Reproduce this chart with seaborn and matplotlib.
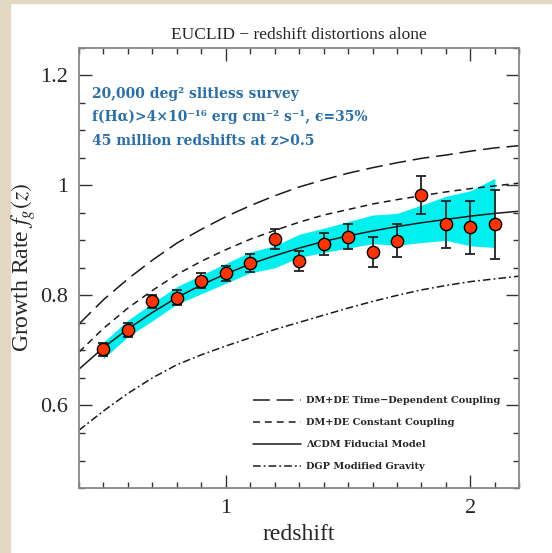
import matplotlib
matplotlib.use('Agg')
import matplotlib.pyplot as plt
from matplotlib.patches import Rectangle
from matplotlib.ticker import MultipleLocator, FormatStrFormatter
import pandas as pd
import seaborn as sns

# model curves at 0.1 steps in redshift
z_model = [0.4, 0.5, 0.6, 0.7, 0.8, 0.9, 1.0, 1.1, 1.2, 1.3,
           1.4, 1.5, 1.6, 1.7, 1.8, 1.9, 2.0, 2.1, 2.2]
f_lcdm = [0.666, 0.705, 0.739, 0.769, 0.796, 0.819, 0.839, 0.857, 0.872, 0.886,
          0.898, 0.908, 0.917, 0.925, 0.932, 0.938, 0.944, 0.949, 0.953]
f_time_coupling = [0.748, 0.792, 0.830, 0.864, 0.895, 0.920, 0.943, 0.963, 0.981, 0.997,
                   1.010, 1.022, 1.032, 1.041, 1.049, 1.055, 1.062, 1.068, 1.072]
f_const_coupling = [0.697, 0.740, 0.777, 0.809, 0.838, 0.862, 0.883, 0.902, 0.918, 0.933,
                    0.946, 0.956, 0.966, 0.974, 0.981, 0.988, 0.994, 0.999, 1.004]
f_dgp = [0.555, 0.590, 0.622, 0.650, 0.674, 0.692, 0.708, 0.723, 0.738, 0.751,
         0.764, 0.777, 0.789, 0.800, 0.810, 0.818, 0.825, 0.830, 0.835]

# simulated EUCLID measurements
z_data = [0.5, 0.6, 0.7, 0.8, 0.9, 1.0, 1.1, 1.2, 1.3,
          1.4, 1.5, 1.6, 1.7, 1.8, 1.9, 2.0, 2.1]
f_data = [0.702, 0.737, 0.789, 0.796, 0.827, 0.840, 0.859, 0.902, 0.862,
          0.893, 0.907, 0.879, 0.899, 0.982, 0.929, 0.924, 0.929]
f_err = [0.012, 0.012, 0.012, 0.013, 0.014, 0.014, 0.016, 0.018, 0.018,
         0.020, 0.023, 0.027, 0.030, 0.035, 0.042, 0.048, 0.062]
# half width of the cyan forecast band
band_half = [0.015, 0.015, 0.016, 0.016, 0.017, 0.018, 0.019, 0.020, 0.021,
             0.022, 0.024, 0.026, 0.029, 0.034, 0.040, 0.050, 0.063]

models = pd.DataFrame({'z': z_model, 'lcdm': f_lcdm, 'time': f_time_coupling,
                       'const': f_const_coupling, 'dgp': f_dgp})
data = pd.DataFrame({'z': z_data, 'f': f_data, 'err': f_err, 'band': band_half})
data = data.merge(models[['z', 'lcdm']].round(2), on='z', how='left')

sns.set_theme(style='ticks')
plt.rcParams['font.family'] = ['Liberation Serif', 'DejaVu Serif']
plt.rcParams['mathtext.fontset'] = 'stix'

fig = plt.figure(figsize=(5.52, 5.53), dpi=100)
fig.patch.set_facecolor('white')
fig.add_artist(Rectangle((0, 0), 10 / 552, 1, transform=fig.transFigure,
                         color='#e3d9c3', zorder=0))
fig.add_artist(Rectangle((0, 1 - 3 / 553), 1, 3 / 553, transform=fig.transFigure,
                         color='#e3d9c3', zorder=0))

ax = fig.add_axes([0.1431, 0.1175, 0.7977, 0.7962])
ax.set_facecolor('white')

# forecast band around the fiducial model
ax.fill_between(data['z'], data['lcdm'] - data['band'], data['lcdm'] + data['band'],
                color='#00f0f0', lw=0, zorder=1)

lw = 1.1
sns.lineplot(data=models, x='z', y='time', color='k', lw=lw, ax=ax,
             linestyle=(0, (11, 4.5)), label='DM+DE Time\u2212Dependent Coupling')
sns.lineplot(data=models, x='z', y='const', color='k', lw=lw, ax=ax,
             linestyle=(0, (4.5, 3.3)), label='DM+DE Constant Coupling')
sns.lineplot(data=models, x='z', y='lcdm', color='k', lw=lw, ax=ax,
             label='\u039bCDM Fiducial Model')
sns.lineplot(data=models, x='z', y='dgp', color='k', lw=lw, ax=ax,
             linestyle=(0, (5, 2, 1.2, 2)), label='DGP Modified Gravity')

ax.errorbar(data['z'], data['f'], yerr=data['err'], fmt='none', ecolor='#222222',
            elinewidth=1.3, capsize=3.6, capthick=1.3, zorder=4)
sns.scatterplot(data=data, x='z', y='f', s=78, color='#ff3300', edgecolor='black',
                linewidth=1.0, zorder=5, ax=ax, legend=False)

ax.set_xlim(0.4, 2.2)
ax.set_ylim(0.45, 1.25)
ax.xaxis.set_major_locator(MultipleLocator(1))
ax.xaxis.set_minor_locator(MultipleLocator(0.1))
ax.yaxis.set_major_locator(MultipleLocator(0.2))
ax.yaxis.set_minor_locator(MultipleLocator(0.05))
ax.yaxis.set_major_formatter(FormatStrFormatter('%g'))
ax.xaxis.set_major_formatter(FormatStrFormatter('%g'))
ax.tick_params(which='both', direction='in', top=True, right=True, color='#333333',
               labelsize=16, width=1.0)
ax.tick_params(which='major', length=9.5, pad=8)
ax.tick_params(which='minor', length=4.5)
for sp in ax.spines.values():
    sp.set_color('#888888')
    sp.set_linewidth(1.3)

ax.set_xlabel('redshift', fontsize=17, labelpad=4)
ax.set_ylabel('Growth Rate $f_g(z)$', fontsize=17)
ax.yaxis.set_label_coords(-0.093, 0.5)
ax.set_title('EUCLID \u2212 redshift distortions alone', fontsize=12.5, pad=6)

blue = '#2a6fa8'
notes = ['20,000 deg\u00b2 slitless survey',
         'f(H\u03b1)>4\u00d710\u207b\u00b9\u2076 erg cm\u207b\u00b2 s\u207b\u00b9, \u03f5=35%',
         '45 million redshifts at z>0.5']
for i, line in enumerate(notes):
    ax.text(0.03, 0.895 - i * 0.053, line, transform=ax.transAxes, color=blue,
            fontsize=10, fontweight='bold', family=['DejaVu Serif'], va='center')

ax.legend(loc='lower left', bbox_to_anchor=(0.375, 0.018), frameon=False,
          prop={'family': ['DejaVu Serif'], 'weight': 'bold', 'size': 7},
          handlelength=5.0, labelspacing=1.35, handletextpad=0.5)

fig.savefig('out.png', dpi=100, facecolor=fig.get_facecolor())
